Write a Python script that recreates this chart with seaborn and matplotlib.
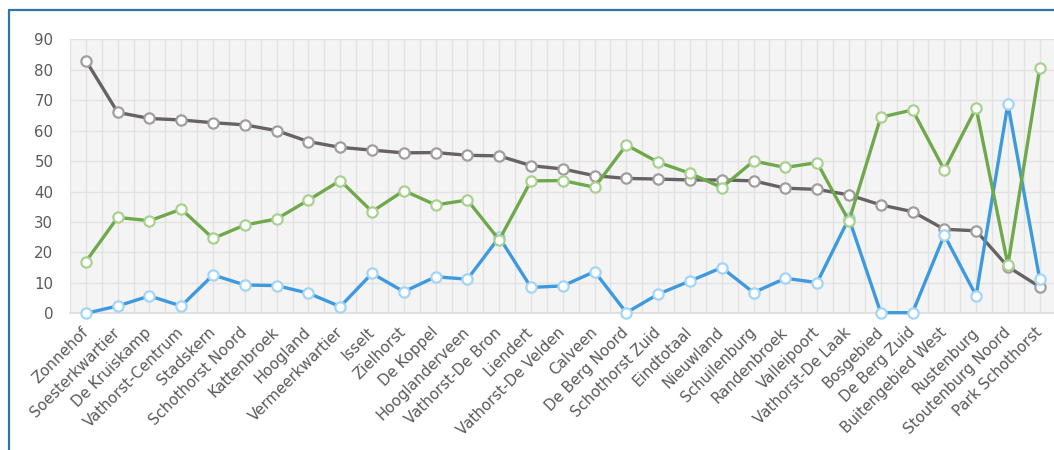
import numpy as np
import pandas as pd
import matplotlib
matplotlib.use("Agg")
import matplotlib.pyplot as plt
from matplotlib.lines import Line2D
from matplotlib.ticker import MultipleLocator
import seaborn as sns

# Wijken (in the order shown on the x axis)
wijken = [
    "Zonnehof", "Soesterkwartier", "De Kruiskamp", "Vathorst-Centrum", "Stadskern",
    "Schothorst Noord", "Kattenbroek", "Hoogland", "Vermeerkwartier", "Isselt",
    "Zielhorst", "De Koppel", "Hooglanderveen", "Vathorst-De Bron", "Liendert",
    "Vathorst-De Velden", "Calveen", "De Berg Noord", "Schothorst Zuid", "Eindtotaal",
    "Nieuwland", "Schuilenburg", "Randenbroek", "Valleipoort", "Vathorst-De Laak",
    "Bosgebied", "De Berg Zuid", "Buitengebied West", "Rustenburg", "Stoutenburg Noord",
    "Park Schothorst",
]

reeks_grijs = [83.0, 66.0, 64.0, 63.5, 62.6, 61.9, 60.0, 56.4, 54.5, 53.6,
               52.7, 52.8, 51.9, 51.7, 48.5, 47.4, 45.2, 44.3, 44.1, 43.8,
               43.8, 43.5, 41.1, 40.7, 38.9, 35.6, 33.4, 27.6, 27.1, 15.3,
               8.7]
reeks_groen = [17.0, 31.5, 30.4, 34.2, 24.6, 29.0, 31.0, 37.2, 43.6, 33.4,
               40.3, 35.6, 37.2, 24.1, 43.5, 43.6, 41.4, 55.3, 49.6, 46.0,
               41.3, 50.0, 47.9, 49.5, 30.3, 64.4, 66.8, 47.1, 67.5, 15.9,
               80.5]
reeks_blauw = [0.0, 2.4, 5.7, 2.4, 12.6, 9.3, 9.1, 6.6, 2.2, 13.1,
               7.1, 12.0, 11.2, 25.0, 8.5, 9.0, 13.7, 0.2, 6.3, 10.6,
               15.0, 6.8, 11.5, 10.1, 31.2, 0.2, 0.2, 25.7, 5.8, 68.8,
               11.2]

y_ticks = [0, 10, 20, 30, 40, 50, 60, 70, 80, 90]

pos = np.arange(len(wijken))
df = pd.DataFrame({
    "pos": np.tile(pos, 3),
    "waarde": reeks_grijs + reeks_blauw + reeks_groen,
    "reeks": ["grijs"] * len(wijken) + ["blauw"] * len(wijken) + ["groen"] * len(wijken),
})

stijl = {
    "grijs": ("#686363", "#a29e9e"),
    "blauw": ("#3d9ade", "#a3d5f6"),
    "groen": ("#6fa94c", "#a9d190"),
}

sns.set_theme(style="white")
plt.rcParams["font.family"] = ["DejaVu Sans"]

fig = plt.figure(figsize=(10.54, 4.5), dpi=100)
ax = fig.add_axes([70 / 1054, (450 - 313.3) / 450, 1 - 70 / 1054, 274 / 450])
ax.set_facecolor("#f4f4f4")

for naam in ["grijs", "blauw", "groen"]:
    lijn, rand = stijl[naam]
    sns.lineplot(
        data=df[df["reeks"] == naam], x="pos", y="waarde", ax=ax,
        color=lijn, linewidth=2.4, marker="o", markersize=7.4,
        markerfacecolor="white", markeredgecolor=rand, markeredgewidth=1.6,
        clip_on=False, legend=False, zorder=3,
    )

ax.set_xlim(-0.5, 30.45)
ax.set_ylim(0, 90)
ax.set_yticks(y_ticks)
ax.set_xticks(pos)
ax.set_xticklabels(wijken, rotation=45, ha="right", va="center",
                   rotation_mode="anchor", fontsize=10.8, color="#5a5a5a")
ax.xaxis.set_minor_locator(MultipleLocator(1, offset=0.5))
ax.tick_params(axis="y", labelsize=10.8, labelcolor="#5a5a5a", length=0, pad=12)
ax.tick_params(axis="x", which="both", length=0, pad=12)
ax.grid(True, which="major", axis="both", color="#e2e2e2", linewidth=1.0, zorder=0)
ax.grid(True, which="minor", axis="x", color="#e2e2e2", linewidth=1.0, zorder=0)
ax.set_axisbelow(True)
ax.set_xlabel("")
ax.set_ylabel("")
for kant in ["top", "right", "left"]:
    ax.spines[kant].set_visible(False)
ax.spines["bottom"].set_color("#dcdcdc")
ax.spines["bottom"].set_linewidth(1.2)

# Blue frame along the top and left edges
kleur_rand = "#2f74a8"
fig.add_artist(Line2D([9 / 1054, 1.0], [1 - 10 / 450, 1 - 10 / 450],
                      transform=fig.transFigure, color=kleur_rand, linewidth=1.6))
fig.add_artist(Line2D([9 / 1054, 9 / 1054], [0.0, 1 - 10 / 450],
                      transform=fig.transFigure, color=kleur_rand, linewidth=1.6))

fig.savefig("out.png", dpi=100)
